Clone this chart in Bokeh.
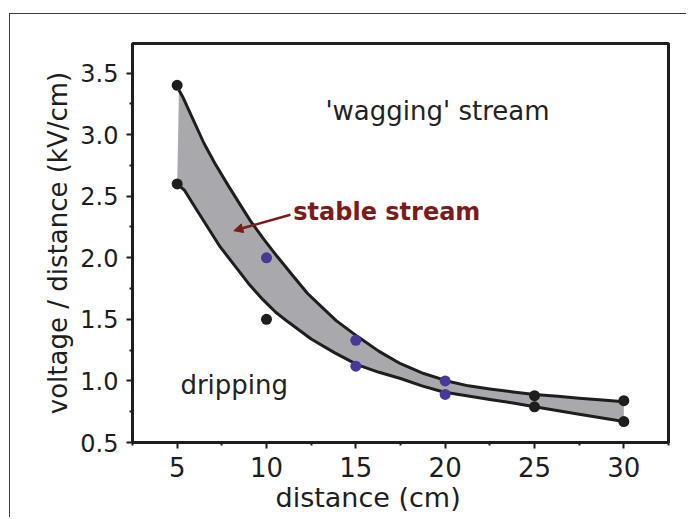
from bokeh.plotting import figure
from bokeh.models import Range1d, FixedTicker, PrintfTickFormatter, Label, Arrow, NormalHead, Title
from bokeh.embed import file_html
from bokeh.resources import INLINE

# ---- data ----
# upper boundary curve (start of 'wagging' stream)
upper_x = [5.1, 5.3, 5.9, 6.5, 7.1, 7.8, 8.4, 9.1, 9.8, 10.6, 11.5, 12.3, 13.1, 13.9, 15.1,
           16.3, 17.5, 18.8, 20.1, 21.3, 22.5, 23.8, 25.0, 26.3, 27.5, 28.8, 30.0]
upper_y = [3.36, 3.31, 3.12, 2.93, 2.77, 2.60, 2.46, 2.30, 2.16, 2.01, 1.85, 1.71, 1.60, 1.49, 1.36,
           1.24, 1.14, 1.06, 1.00, 0.96, 0.935, 0.91, 0.89, 0.875, 0.86, 0.845, 0.83]
# lower boundary curve (end of dripping)
lower_x = [5.0, 5.4, 6.0, 6.7, 7.4, 8.2, 9.0, 9.8, 10.5, 11.2, 12.5, 13.8, 15.1, 16.3, 17.5,
           18.7, 19.9, 21.2, 22.5, 23.8, 25.0, 27.5, 30.0]
lower_y = [2.60, 2.55, 2.41, 2.25, 2.09, 1.94, 1.79, 1.66, 1.56, 1.48, 1.34, 1.23, 1.13, 1.07, 1.02,
           0.96, 0.91, 0.88, 0.85, 0.82, 0.79, 0.73, 0.67]

# measured points
black_x = [5, 5, 10, 25, 25, 30, 30]
black_y = [3.40, 2.60, 1.50, 0.88, 0.79, 0.84, 0.67]
blue_x = [10, 15, 15, 20, 20]
blue_y = [2.00, 1.33, 1.12, 1.00, 0.89]

x_ticks = [5, 10, 15, 20, 25, 30]
x_minor = [2.5, 7.5, 12.5, 17.5, 22.5, 27.5, 32.5]
y_ticks = [0.5, 1.0, 1.5, 2.0, 2.5, 3.0, 3.5]
y_minor = [0.75, 1.25, 1.75, 2.25, 2.75, 3.25]

FONT = "DejaVu Sans"
INK = "#1e1e1e"
RED = "#7a1c1c"

p = figure(width=677, height=504, output_backend="svg", toolbar_location=None,
           x_range=Range1d(2.5, 32.5), y_range=Range1d(0.5, 3.74),
           min_border_left=122, min_border_top=29, min_border_right=19, min_border_bottom=76)
p.styles = {"margin-left": "9px", "margin-top": "13px",
            "border-left": "1px solid #3c3c3c", "border-top": "1px solid #3c3c3c"}
p.background_fill_color = "white"
p.border_fill_color = "white"
p.outline_line_color = INK
p.outline_line_width = 3
p.xgrid.visible = False
p.ygrid.visible = False

# band between the curves
band_x = upper_x + lower_x[::-1]
band_y = upper_y + lower_y[::-1]
p.patch(band_x, band_y, fill_color="#a9a9ad", line_color=None)

p.line(upper_x, upper_y, line_color=INK, line_width=3, line_join="round")
p.line(lower_x, lower_y, line_color=INK, line_width=3, line_join="round")

p.scatter(black_x, black_y, size=11, fill_color=INK, line_color=None)
p.scatter(blue_x, blue_y, size=11, fill_color="#46399a", line_color=None)

# axes
for ax in (p.xaxis[0], p.yaxis[0]):
    ax.axis_line_width = 3
    ax.axis_line_color = INK
    ax.major_tick_line_width = 2
    ax.major_tick_line_color = INK
    ax.minor_tick_line_width = 2
    ax.minor_tick_line_color = INK
    ax.major_tick_in = 0
    ax.major_tick_out = 6
    ax.minor_tick_in = 0
    ax.minor_tick_out = 3
    ax.major_label_text_font = FONT
    ax.major_label_text_color = INK
    ax.major_label_standoff = 8

p.xaxis[0].ticker = FixedTicker(ticks=x_ticks, minor_ticks=x_minor)
p.yaxis[0].ticker = FixedTicker(ticks=y_ticks, minor_ticks=y_minor)
p.yaxis[0].formatter = PrintfTickFormatter(format="%.1f")
p.xaxis[0].major_label_text_font_size = "26px"
p.yaxis[0].major_label_text_font_size = "24px"

p.yaxis[0].axis_label = "voltage / distance (kV/cm)"
p.yaxis[0].axis_label_text_font = FONT
p.yaxis[0].axis_label_text_font_size = "26px"
p.yaxis[0].axis_label_text_font_style = "normal"
p.yaxis[0].axis_label_text_color = INK
p.yaxis[0].axis_label_standoff = 4

# x axis title placed as in the reference (left of centre)
p.add_layout(Title(text="distance (cm)", align="left", offset=143, standoff=0,
                   text_font=FONT, text_font_size="27px", text_font_style="normal",
                   text_color=INK), "below")

# region annotations
p.add_layout(Label(x=13.3, y=3.19, text="'wagging' stream", text_font=FONT,
                   text_font_size="26px", text_color="#222222", text_baseline="alphabetic"))
p.add_layout(Label(x=11.5, y=2.37, text="stable stream", text_font=FONT,
                   text_font_size="24px", text_font_style="bold", text_color=RED,
                   text_baseline="alphabetic"))
p.add_layout(Label(x=5.18, y=0.97, text="dripping", text_font=FONT,
                   text_font_size="26px", text_color="#222222", text_baseline="alphabetic"))
p.add_layout(Arrow(end=NormalHead(size=9, fill_color=RED, line_color=RED),
                   x_start=11.34, y_start=2.35, x_end=8.17, y_end=2.22,
                   line_color=RED, line_width=2.5))

open("out.html", "w").write(file_html(p, INLINE))
